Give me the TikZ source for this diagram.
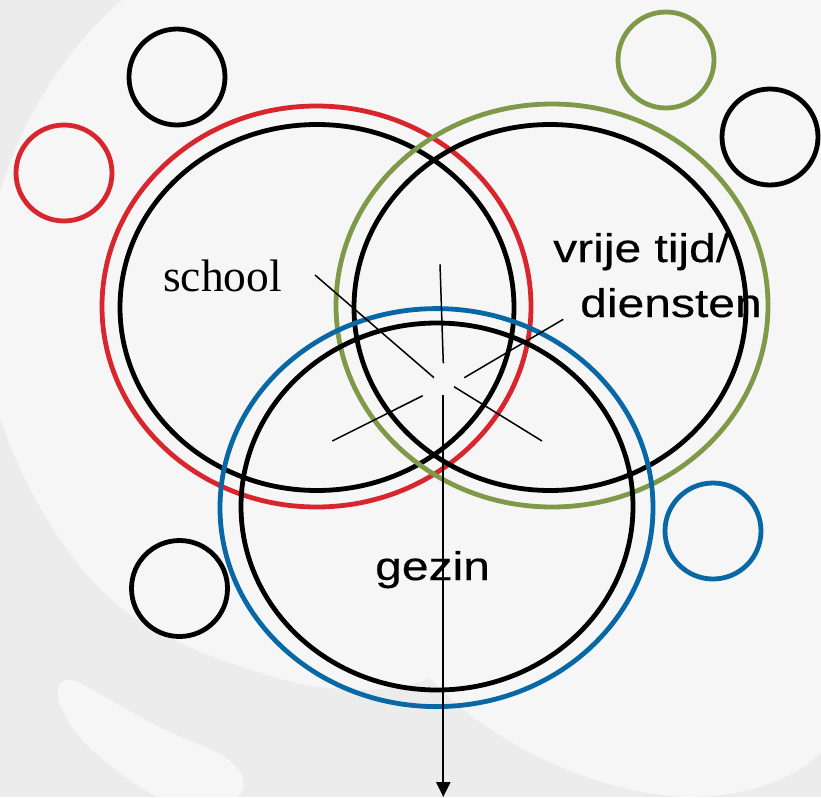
\documentclass[tikz,border=0pt]{standalone}
\usepackage{fontspec}
\usetikzlibrary{arrows.meta}
\newfontfamily\venserif{Liberation Serif}
\newfontfamily\vensans[FakeStretch=1.2,FakeBold=0.4]{Liberation Sans}
\definecolor{vred}{HTML}{D9262E}
\definecolor{vgreen}{HTML}{7E9A48}
\definecolor{vblue}{HTML}{0868A6}
\definecolor{bgdark}{HTML}{ECECEC}
\definecolor{bglight}{HTML}{F6F6F6}
\begin{document}
\begin{tikzpicture}[x=1pt,y=-1pt,
  ring/.style={line width=4.8pt},
  spoke/.style={line width=1.5pt},
  lbl/.style={anchor=base west, inner sep=0pt, text=black},
  sanslbl/.style={lbl, font=\vensans\fontsize{40}{48}\selectfont},
  seriflbl/.style={lbl, font=\venserif\fontsize{45.5}{50}\selectfont}]
\useasboundingbox (0,0) rectangle (821,797);
% background
\fill[bgdark] (0,0) rectangle (821,797);
\fill[bglight] (122,0) -- (821,0) -- (821,753)
  .. controls (790,782) and (740,797) .. (690,797)
  .. controls (590,795) and (480,735) .. (430,678)
  .. controls (400,692) and (330,697) .. (262,673)
  .. controls (200,655) and (145,630) .. (112,600)
  .. controls (65,560) and (20,480) .. (0,417)
  -- (0,192)
  .. controls (25,110) and (70,45) .. (122,0) -- cycle;
\fill[bglight] (157,797) .. controls (110,770) and (62,730) .. (58,695)
  .. controls (56,680) and (68,676) .. (80,683)
  .. controls (120,705) and (150,725) .. (200,745)
  .. controls (240,760) and (252,780) .. (238,797) -- cycle;
% small circles
\draw[ring] (177,77) circle[radius=48pt];
\draw[ring, vred] (64,173) circle[radius=48pt];
\draw[ring, vgreen] (666,60) circle[radius=48pt];
\draw[ring] (770,137) circle[radius=48pt];
\draw[ring, vblue] (713,531) circle[radius=48pt];
\draw[ring] (179.5,588.5) circle[radius=48pt];
% big rings
\draw[ring, vred] (316.5,306.5) ellipse[x radius=214.5pt, y radius=200.5pt];
\draw[ring] (317,307.5) ellipse[x radius=197pt, y radius=183pt];
\draw[ring, vgreen] (552,305.5) ellipse[x radius=216pt, y radius=201.5pt];
\draw[ring] (550,307.5) ellipse[x radius=196pt, y radius=183pt];
\draw[ring, vblue] (436.5,507.6) ellipse[x radius=216.5pt, y radius=199pt];
\draw[ring] (437,506.5) ellipse[x radius=196pt, y radius=183.5pt];
% labels
\node[seriflbl] (school) at (163,291) {school};
\node[sanslbl] (vrije) at (553,262) {vrije tijd/};
\node[sanslbl] (diensten) at (580,317) {diensten};
\node[sanslbl] (gezin) at (375,580) {gezin};
% spokes
\coordinate (s1a) at (315,275);   \coordinate (s1b) at (434,377.7);
\coordinate (v1a) at (440,264.3); \coordinate (v1b) at (443.3,363.3);
\coordinate (s2a) at (464.3,377.7); \coordinate (s2b) at (563.3,319.3);
\coordinate (s3a) at (422.7,395.7); \coordinate (s3b) at (332.3,441);
\coordinate (s4a) at (454,386.7); \coordinate (s4b) at (542,441);
\coordinate (arrowstart) at (443.3,395.3);
\coordinate (arrowend) at (443.3,797);
\draw[spoke] (s1a) -- (s1b);
\draw[spoke] (v1a) -- (v1b);
\draw[spoke] (s2a) -- (s2b);
\draw[spoke] (s3a) -- (s3b);
\draw[spoke] (s4a) -- (s4b);
\draw[line width=2.2pt, -{Triangle[width=14pt,length=15pt]}] (arrowstart) -- (arrowend);
\end{tikzpicture}
\end{document}
